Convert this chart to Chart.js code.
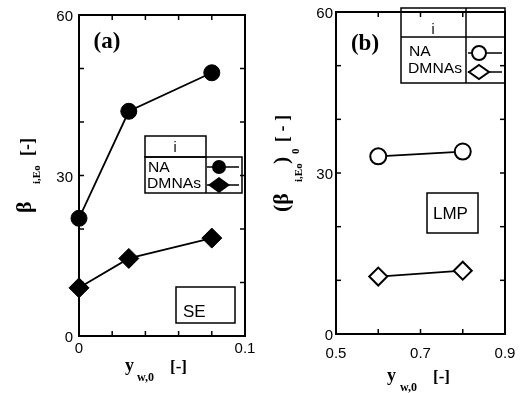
<!DOCTYPE html>
<html>
<head>
<meta charset="utf-8">
<style>
  html, body { margin: 0; padding: 0; background: #fff; }
  canvas { position: absolute; top: 0; }
</style>
</head>
<body>
<canvas id="chartA" width="265" height="393" style="left:0"></canvas>
<canvas id="chartB" width="265" height="393" style="left:265px"></canvas>
<script src="https://cdn.jsdelivr.net/npm/chart.js@4.4.1/dist/chart.umd.min.js"></script>
<script>
// (a) SE
const seX = [0, 0.03, 0.08];
const seNA = [22, 42, 49.2];
const seDMNAs = [9, 14.5, 18.3];
// (b) LMP
const lmpX = [0.6, 0.8];
const lmpNA = [33.1, 34];
const lmpDMNAs = [10.7, 11.8];
// tick labels
const yLabelsA = [0, 30, 60];
const xLabelsA = [0, 0.1];
const yLabelsB = [0, 30, 60];
const xLabelsB = [0.5, 0.7, 0.9];
const species = ['NA', 'DMNAs'];

const SANS = '"Liberation Sans", Arial, sans-serif';
const SERIF = '"Liberation Serif", "Times New Roman", serif';

function pts(xs, ys) { return xs.map((x, i) => ({ x: x, y: ys[i] })); }
function pick(list, v) {
  const l = list.find(l => Math.abs(l - v) < 1e-6);
  return l === undefined ? '' : String(l);
}

function txt(ctx, s, font, x, y, align, base, sx) {
  ctx.save();
  ctx.font = font;
  ctx.fillStyle = '#000';
  ctx.textAlign = align || 'left';
  ctx.textBaseline = base || 'alphabetic';
  ctx.translate(x, y);
  if (sx) ctx.scale(sx, 1);
  ctx.fillText(s, 0, 0);
  ctx.restore();
}
function rot(ctx, s, font, sx, sy) {
  ctx.save();
  ctx.font = font;
  ctx.fillStyle = '#000';
  ctx.textAlign = 'left';
  ctx.textBaseline = 'alphabetic';
  ctx.translate(sx, sy);
  ctx.rotate(-Math.PI / 2);
  ctx.fillText(s, 0, 0);
  ctx.restore();
}
function circle(ctx, x, y, r, fill) {
  ctx.beginPath();
  ctx.arc(x, y, r, 0, Math.PI * 2);
  if (fill) { ctx.fillStyle = '#000'; ctx.fill(); }
  else { ctx.fillStyle = '#fff'; ctx.fill(); ctx.lineWidth = 2; ctx.stroke(); }
}
function diamond(ctx, x, y, w, h, fill) {
  ctx.beginPath();
  ctx.moveTo(x - w, y); ctx.lineTo(x, y - h); ctx.lineTo(x + w, y); ctx.lineTo(x, y + h);
  ctx.closePath();
  if (fill) { ctx.fillStyle = '#000'; ctx.fill(); }
  else { ctx.fillStyle = '#fff'; ctx.fill(); ctx.lineWidth = 2; ctx.stroke(); }
}
function line(ctx, x1, y1, x2, y2, w) {
  ctx.beginPath();
  ctx.lineWidth = w || 1.5;
  ctx.moveTo(x1, y1); ctx.lineTo(x2, y2);
  ctx.stroke();
}

// box + inward ticks
function drawFrame(chart) {
  const ctx = chart.ctx, a = chart.chartArea;
  const xs = chart.scales.x, ys = chart.scales.y;
  ctx.save();
  ctx.strokeStyle = '#000';
  xs.ticks.forEach(t => {
    const px = xs.getPixelForValue(t.value);
    line(ctx, px, a.bottom, px, a.bottom - 5, 1.5);
    line(ctx, px, a.top, px, a.top + 5, 1.5);
  });
  ys.ticks.forEach(t => {
    const py = ys.getPixelForValue(t.value);
    line(ctx, a.left, py, a.left + 5, py, 1.5);
    line(ctx, a.right, py, a.right - 5, py, 1.5);
  });
  ctx.lineWidth = 2;
  ctx.strokeRect(a.left, a.top, a.right - a.left, a.bottom - a.top);
  ctx.restore();
}

function scales(xMin, xMax, xStep, xLabels, yLabels, left, bottom, xPad, yPad, xSize) {
  return {
    x: {
      type: 'linear', min: xMin, max: xMax,
      afterFit: s => { s.height = 393 - bottom; },
      grid: { display: false, drawTicks: false }, border: { display: false },
      ticks: {
        stepSize: xStep, autoSkip: false, maxRotation: 0, padding: xPad, color: '#000',
        font: { family: SANS, size: xSize },
        callback: v => pick(xLabels, v)
      }
    },
    y: {
      type: 'linear', min: 0, max: 60,
      afterFit: s => { s.width = left; },
      grid: { display: false, drawTicks: false }, border: { display: false },
      ticks: {
        stepSize: 10, autoSkip: false, padding: yPad, color: '#000', labelOffset: 2,
        font: { family: SANS, size: 15 },
        callback: v => pick(yLabels, v)
      }
    }
  };
}

function ds(data, style, radius, filled) {
  return {
    data: data, showLine: true, clip: false,
    borderColor: '#000', borderWidth: 1.8,
    pointStyle: style, pointRadius: radius, pointHoverRadius: radius,
    pointBackgroundColor: filled ? '#000' : '#fff',
    pointBorderColor: '#000', pointBorderWidth: filled ? 1 : 2
  };
}

// ---- panel (a)
new Chart(document.getElementById('chartA'), {
  type: 'scatter',
  data: {
    datasets: [
      ds(pts(seX, seNA), 'circle', 8, true),
      ds(pts(seX, seDMNAs), 'rectRot', 10, true)
    ]
  },
  options: {
    responsive: false, animation: false, events: [],
    layout: { padding: { left: 0, top: 9, right: 20, bottom: 0 } },
    plugins: { legend: { display: false }, tooltip: { enabled: false } },
    scales: scales(0, 0.1, 0.02, xLabelsA, yLabelsA, 79, 336, 4, 6, 15)
  },
  plugins: [{
    id: 'decorA',
    beforeDatasetsDraw: drawFrame,
    afterDraw(chart) {
      const ctx = chart.ctx;
      ctx.save();
      ctx.strokeStyle = '#000';
      txt(ctx, '(a)', 'bold 23px ' + SERIF, 107, 42, 'center', 'middle');
      // legend table
      ctx.lineWidth = 1.5;
      ctx.strokeRect(145, 136, 61, 21);
      ctx.strokeRect(145, 157, 97, 36);
      line(ctx, 206, 157, 206, 193);
      txt(ctx, 'i', '14px ' + SANS, 175, 148, 'center', 'middle');
      txt(ctx, species[0], '14px ' + SANS, 148, 168, 'left', 'middle', 1.12);
      txt(ctx, species[1], '14px ' + SANS, 147, 184, 'left', 'middle', 1.12);
      line(ctx, 207, 167, 239, 167);
      circle(ctx, 219, 167, 7, true);
      line(ctx, 207, 185, 239, 185);
      diamond(ctx, 219, 185, 11, 8, true);
      // SE box
      ctx.lineWidth = 1.5;
      ctx.strokeRect(176, 287, 59, 36);
      txt(ctx, 'SE', '17px ' + SANS, 183, 312, 'left', 'middle');
      // axis titles
      txt(ctx, 'y', 'bold 18px ' + SERIF, 125, 371);
      txt(ctx, 'w,0', 'bold 12px ' + SERIF, 137, 381);
      txt(ctx, '[-]', 'bold 17px ' + SERIF, 170, 372);
      rot(ctx, 'β', 'bold 22px ' + SERIF, 31, 213);
      rot(ctx, 'i,Eo', 'bold 11px ' + SERIF, 40, 184);
      rot(ctx, '[-]', 'bold 18px ' + SERIF, 33, 156);
      ctx.restore();
    }
  }]
});

// ---- panel (b)
new Chart(document.getElementById('chartB'), {
  type: 'scatter',
  data: {
    datasets: [
      ds(pts(lmpX, lmpNA), 'circle', 8, false),
      ds(pts(lmpX, lmpDMNAs), 'rectRot', 9, false)
    ]
  },
  options: {
    responsive: false, animation: false, events: [],
    layout: { padding: { left: 0, top: 8, right: 25, bottom: 0 } },
    plugins: { legend: { display: false }, tooltip: { enabled: false } },
    scales: scales(0.5, 0.9, 0.1, xLabelsB, yLabelsB, 71, 334, 11, 3, 15)
  },
  plugins: [{
    id: 'decorB',
    beforeDatasetsDraw: drawFrame,
    afterDraw(chart) {
      const ctx = chart.ctx;
      ctx.save();
      ctx.strokeStyle = '#000';
      txt(ctx, '(b)', 'bold 23px ' + SERIF, 100, 44, 'center', 'middle');
      // legend table
      ctx.lineWidth = 1.5;
      ctx.strokeRect(136, 8, 104, 75);
      line(ctx, 136, 37, 240, 37);
      line(ctx, 201, 8, 201, 83);
      txt(ctx, 'i', '14px ' + SANS, 168, 30, 'center', 'middle');
      txt(ctx, species[0], '14px ' + SANS, 144, 52, 'left', 'middle', 1.12);
      txt(ctx, species[1], '14px ' + SANS, 143, 69, 'left', 'middle', 1.12);
      line(ctx, 203, 53, 237, 53);
      circle(ctx, 214, 53, 7, false);
      line(ctx, 203, 72, 237, 72);
      diamond(ctx, 214, 72, 10, 7, false);
      // LMP box
      ctx.lineWidth = 1.5;
      ctx.strokeRect(162, 193, 51, 40);
      txt(ctx, 'LMP', '17px ' + SANS, 168, 214, 'left', 'middle');
      // axis titles
      txt(ctx, 'y', 'bold 18px ' + SERIF, 122, 381);
      txt(ctx, 'w,0', 'bold 12px ' + SERIF, 135, 391);
      txt(ctx, '[-]', 'bold 17px ' + SERIF, 168, 382);
      rot(ctx, '(β', 'bold 22px ' + SERIF, 23, 212);
      rot(ctx, 'i,Eo', 'bold 11px ' + SERIF, 37, 182);
      rot(ctx, ')', 'bold 22px ' + SERIF, 23, 164);
      rot(ctx, '0', 'bold 11px ' + SERIF, 34, 154);
      rot(ctx, '[ - ]', 'bold 18px ' + SERIF, 23, 142);
      ctx.restore();
    }
  }]
});
</script>
</body>
</html>
